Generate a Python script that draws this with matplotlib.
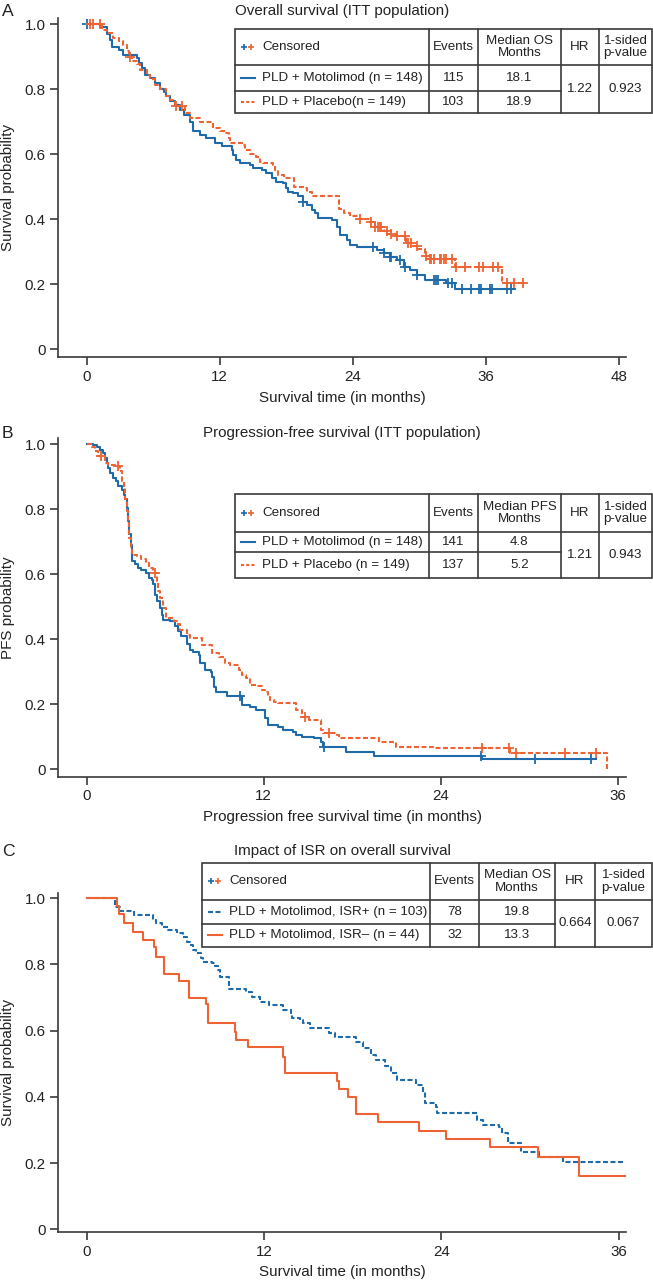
import numpy as np
import matplotlib
matplotlib.use('Agg')
import matplotlib.pyplot as plt
from matplotlib import font_manager as fm
from matplotlib.patches import Rectangle

# condensed font if present, otherwise regular Liberation Sans a bit smaller
names = {f.name for f in fm.fontManager.ttflist}
if 'Liberation Sans Narrow' in names:
    FAMILY, K = 'Liberation Sans Narrow', 1.0
else:
    FAMILY, K = 'Liberation Sans', 0.84
plt.rcParams['font.family'] = [FAMILY, 'DejaVu Sans']

BLUE = '#1f6aa8'
ORANGE = '#ee6334'
EDGE = '#3a3a3a'

# ---- A: overall survival (ITT) ----
os_mot_t = [0, 1.2, 1.8, 2.1, 2.3, 2.9, 3.3, 4.5, 4.7, 5.0, 5.3, 5.7, 6.2, 6.6, 7.0, 7.2, 7.5,
            8.0, 8.4, 8.8, 9.3, 9.6, 10.2, 10.8, 11.6, 12.2, 13.1, 13.2, 13.5, 13.8, 14.7, 15.0,
            15.8, 16.2, 16.7, 17.1, 17.7, 18.0, 18.2, 18.6, 19.1, 19.5, 19.9, 20.3, 20.6, 20.9,
            22.1, 22.6, 22.9, 23.5, 23.8, 24.4, 26.2, 26.8, 27.4, 28.0, 28.6, 29.2, 29.8, 30.5,
            32.4, 33.2]
os_mot_s = [1.0, 0.99, 0.97, 0.95, 0.93, 0.92, 0.905, 0.895, 0.88, 0.865, 0.845, 0.835, 0.82,
            0.80, 0.79, 0.78, 0.765, 0.75, 0.735, 0.72, 0.70, 0.67, 0.66, 0.649, 0.634, 0.624,
            0.613, 0.598, 0.582, 0.572, 0.567, 0.557, 0.552, 0.541, 0.526, 0.516, 0.511, 0.495,
            0.485, 0.48, 0.47, 0.454, 0.444, 0.429, 0.418, 0.403, 0.398, 0.377, 0.352, 0.336,
            0.321, 0.315, 0.305, 0.295, 0.285, 0.274, 0.254, 0.244, 0.228, 0.213, 0.203, 0.186]
os_mot_end = 38.6
os_mot_cens = [0, 19.5, 25.8, 26.8, 27.4, 27.5, 28.3, 28.7, 29.8, 31.3, 31.5, 31.7, 32.6, 33.0,
               33.9, 34.7, 35.4, 35.6, 36.4, 36.6, 37.9, 38.3]

os_pla_t = [0, 1.35, 1.8, 2.4, 2.9, 3.3, 3.6, 3.8, 4.1, 4.5, 4.8, 5.4, 5.7, 6.2, 6.6, 7.2, 7.5,
            8.0, 8.9, 9.3, 10.2, 11.4, 12.0, 12.5, 12.8, 12.9, 14.1, 14.3, 14.7, 15.3, 15.6, 15.9,
            16.8, 17.0, 17.3, 17.8, 18.7, 19.6, 19.9, 20.3, 22.8, 23.2, 23.8, 24.5, 25.6, 26.0,
            26.8, 27.2, 27.9, 28.8, 29.4, 29.9, 30.5, 30.9, 33.2, 37.5]
os_pla_s = [1.0, 0.983, 0.973, 0.958, 0.948, 0.937, 0.917, 0.90, 0.886, 0.876, 0.86, 0.845, 0.83,
            0.814, 0.80, 0.778, 0.768, 0.748, 0.727, 0.712, 0.70, 0.68, 0.67, 0.664, 0.649, 0.634,
            0.628, 0.613, 0.60, 0.59, 0.577, 0.572, 0.567, 0.552, 0.536, 0.526, 0.50, 0.495,
            0.485, 0.47, 0.43, 0.42, 0.41, 0.40, 0.39, 0.375, 0.365, 0.355, 0.348, 0.328, 0.318,
            0.308, 0.287, 0.278, 0.252, 0.203]
os_pla_end = 39.4
os_pla_cens = [0.3, 0.6, 1.2, 3.9, 8.1, 8.6, 24.7, 25.7, 26.0, 26.3, 26.5, 26.6, 27.1, 27.5, 28.0,
               28.7, 29.0, 29.3, 29.8, 30.6, 31.0, 31.1, 31.3, 31.85, 32.0, 32.2, 32.4, 32.97,
               33.35, 34.1, 35.4, 35.8, 36.7, 37.1, 37.9, 38.6, 39.4]

# ---- B: progression-free survival (ITT) ----
pfs_mot_t = [0, 0.45, 0.7, 0.9, 1.13, 1.24, 1.36, 1.47, 1.58, 1.8, 2.0, 2.15, 2.37, 2.5, 2.6, 2.7,
             2.8, 2.87, 3.0, 3.05, 3.1, 3.3, 3.5, 3.7, 4.0, 4.2, 4.4, 4.5, 4.6, 4.75, 5.0, 5.1,
             5.2, 5.65, 6.0, 6.2, 6.4, 6.8, 7.0, 7.2, 7.6, 7.7, 8.0, 8.4, 8.5, 8.6, 8.8, 9.5,
             10.5, 11.1, 11.5, 12.1, 12.3, 13.0, 13.3, 14.0, 14.2, 14.6, 15.4, 15.9, 16.05, 17.6,
             19.5, 26.8]
pfs_mot_s = [1.0, 0.997, 0.99, 0.983, 0.973, 0.958, 0.942, 0.927, 0.912, 0.896, 0.886, 0.87, 0.86,
             0.845, 0.83, 0.804, 0.763, 0.722, 0.691, 0.66, 0.64, 0.63, 0.62, 0.614, 0.604, 0.588,
             0.583, 0.568, 0.537, 0.516, 0.496, 0.475, 0.46, 0.455, 0.44, 0.424, 0.409, 0.385,
             0.366, 0.361, 0.351, 0.325, 0.305, 0.30, 0.284, 0.253, 0.238, 0.225, 0.197, 0.192,
             0.182, 0.156, 0.136, 0.130, 0.12, 0.115, 0.105, 0.10, 0.094, 0.084, 0.069, 0.053,
             0.04, 0.03]
pfs_mot_end = 34.5
pfs_mot_cens = [10.4, 16.1, 26.75, 30.4, 34.2]

pfs_pla_t = [0, 0.34, 0.56, 0.8, 1.24, 1.47, 1.9, 2.26, 2.37, 2.5, 2.6, 2.7, 2.78, 2.87, 3.0, 3.1,
             3.4, 3.7, 4.0, 4.2, 4.5, 4.75, 4.86, 5.0, 5.2, 5.4, 5.9, 6.1, 6.3, 6.8, 7.0, 7.8, 8.5,
             9.0, 9.4, 9.7, 10.3, 10.5, 10.8, 11.1, 11.5, 11.9, 12.1, 12.3, 12.4, 12.7, 13.0, 14.2,
             14.6, 15.1, 15.9, 16.0, 17.0, 17.1, 19.8, 21.0, 23.5, 28.7, 35.3]
pfs_pla_s = [1.0, 0.99, 0.98, 0.963, 0.942, 0.937, 0.932, 0.917, 0.886, 0.866, 0.83, 0.794, 0.763,
             0.711, 0.681, 0.66, 0.655, 0.645, 0.634, 0.619, 0.604, 0.578, 0.547, 0.527, 0.496,
             0.465, 0.455, 0.445, 0.428, 0.413, 0.403, 0.382, 0.356, 0.346, 0.325, 0.32, 0.305,
             0.29, 0.279, 0.259, 0.254, 0.243, 0.238, 0.223, 0.213, 0.207, 0.202, 0.182, 0.161,
             0.151, 0.12, 0.11, 0.105, 0.095, 0.084, 0.069, 0.064, 0.05, 0.0]
pfs_pla_end = 35.3
pfs_pla_cens = [1.0, 2.1, 4.6, 14.8, 16.4, 26.8, 28.6, 29.1, 32.4, 34.5]

# ---- C: impact of ISR on overall survival ----
isr_pos_t = [0, 1.9, 2.26, 3.2, 4.47, 4.7, 5.1, 5.5, 6.1, 6.5, 6.8, 7.0, 7.2, 7.4, 7.7, 7.9, 8.5,
             8.7, 8.9, 9.0, 9.6, 10.77, 11.2, 11.75, 12.3, 13.3, 13.8, 13.9, 14.4, 14.6, 15.1,
             16.4, 16.8, 18.2, 18.7, 19.2, 19.6, 20.2, 20.6, 21.0, 22.3, 22.75, 22.9, 23.6, 23.7,
             26.4, 26.8, 27.9, 28.1, 28.5, 29.4, 30.6, 32.2]
isr_pos_s = [1.0, 0.975, 0.963, 0.95, 0.935, 0.925, 0.914, 0.904, 0.894, 0.884, 0.869, 0.859,
             0.844, 0.834, 0.819, 0.809, 0.804, 0.794, 0.783, 0.763, 0.725, 0.718, 0.703, 0.688,
             0.678, 0.663, 0.653, 0.637, 0.632, 0.622, 0.607, 0.592, 0.58, 0.567, 0.547, 0.527,
             0.512, 0.492, 0.472, 0.451, 0.436, 0.416, 0.381, 0.371, 0.351, 0.33, 0.315, 0.31,
             0.29, 0.26, 0.235, 0.22, 0.203]
isr_pos_end = 36.4

isr_neg_t = [0, 2.03, 2.2, 2.5, 3.16, 3.83, 4.58, 4.7, 5.2, 6.25, 6.9, 8.05, 8.2, 10.0, 10.1, 10.9,
             13.3, 13.4, 16.9, 17.1, 17.7, 18.2, 19.7, 22.5, 24.3, 27.3, 30.5, 33.3]
isr_neg_s = [1.0, 0.977, 0.953, 0.924, 0.899, 0.874, 0.852, 0.824, 0.771, 0.751, 0.70, 0.68, 0.622,
             0.597, 0.572, 0.55, 0.52, 0.473, 0.449, 0.423, 0.40, 0.348, 0.323, 0.298, 0.273,
             0.248, 0.218, 0.161]
isr_neg_end = 36.4

W, H = 653, 1281
fig = plt.figure(figsize=(W / 100, H / 100), dpi=100)


def px_axes(left, top, right, bottom):
    return fig.add_axes([left / W, 1 - bottom / H, (right - left) / W, (bottom - top) / H])


def km(ax, t, s, end, color, ls, cens=None):
    tt = np.append(t, end)
    ss = np.append(s, s[-1])
    ax.step(tt, ss, where='post', color=color, lw=1.5, linestyle=ls, zorder=3)
    if cens:
        idx = np.searchsorted(t, cens, side='right') - 1
        ax.plot(cens, np.asarray(s)[idx], ls='none', marker='+', ms=7, mew=1.3,
                color=color, zorder=4)


def style(ax, xlim, ylim, xticks, xlabel, ylabel, xlab_y):
    ax.set_xlim(*xlim)
    ax.set_ylim(*ylim)
    for sp in ('top', 'right'):
        ax.spines[sp].set_visible(False)
    for sp in ('left', 'bottom'):
        ax.spines[sp].set_color(EDGE)
        ax.spines[sp].set_linewidth(1.2)
    ax.set_xticks(xticks)
    ax.set_yticks([0, 0.2, 0.4, 0.6, 0.8, 1.0])
    ax.set_yticklabels(['0', '0.2', '0.4', '0.6', '0.8', '1.0'])
    ax.tick_params(length=6, width=1.2, color=EDGE, labelsize=13 * K, pad=3, labelcolor='#222')
    ax.set_xlabel(xlabel, fontsize=13 * K, color='#222')
    ax.set_ylabel(ylabel, fontsize=13 * K, color='#222')
    ax.xaxis.set_label_coords(0.5, xlab_y)
    ax.xaxis.label.set_va('center')
    ax.yaxis.set_label_coords(-0.088, 0.5)
    ax.yaxis.label.set_va('center')


dash = (0, (2.4, 1.2))

axA = px_axes(58.3, 18.3, 625.8, 357.3)
km(axA, os_mot_t, os_mot_s, os_mot_end, BLUE, '-', os_mot_cens)
km(axA, os_pla_t, os_pla_s, os_pla_end, ORANGE, dash, os_pla_cens)
style(axA, (-2.56, 48.65), (-0.0246, 1.018), [0, 12, 24, 36, 48],
      'Survival time (in months)', 'Survival probability', -0.121)

axB = px_axes(58.3, 438, 625.8, 776.7)
km(axB, pfs_mot_t, pfs_mot_s, pfs_mot_end, BLUE, '-', pfs_mot_cens)
km(axB, pfs_pla_t, pfs_pla_s, pfs_pla_end, ORANGE, dash, pfs_pla_cens)
style(axB, (-1.925, 36.55), (-0.0237, 1.019), [0, 12, 24, 36],
      'Progression free survival time (in months)', 'PFS probability', -0.118)

axC = px_axes(58.3, 893.3, 625.8, 1232)
km(axC, isr_pos_t, isr_pos_s, isr_pos_end, BLUE, dash)
km(axC, isr_neg_t, isr_neg_s, isr_neg_end, ORANGE, '-')
style(axC, (-1.92, 36.47), (-0.008, 1.015), [0, 12, 24, 36],
      'Survival time (in months)', 'Survival probability', -0.117)

# overlay in pixel coordinates for titles, panel letters and the summary tables
ov = fig.add_axes([0, 0, 1, 1], zorder=5)
ov.set_xlim(0, W)
ov.set_ylim(H, 0)
ov.axis('off')
ov.patch.set_alpha(0)

for letter, ttl, y in [('A', 'Overall survival (ITT population)', 11),
                       ('B', 'Progression-free survival (ITT population)', 433),
                       ('C', 'Impact of ISR on overall survival', 851)]:
    ov.text(2, y, letter, fontsize=15 * K, ha='left', va='center', color='#222')
    ov.text(342, y, ttl, fontsize=13 * K, ha='center', va='center', color='#222')


def table(cols, rows, median_hdr, labels, events, medians, hr, pval, styles):
    x0, x1, x2, x3, x4, x5 = cols
    y0, y1, y2, y3 = rows
    ov.add_patch(Rectangle((x0, y0), x5 - x0, y3 - y0, fc='white', ec=EDGE, lw=1.2, zorder=1))
    for x in (x1, x2, x3, x4):
        ov.plot([x, x], [y0, y3], color=EDGE, lw=1.2, zorder=2)
    ov.plot([x0, x5], [y1, y1], color=EDGE, lw=1.2, zorder=2)
    ov.plot([x0, x3], [y2, y2], color=EDGE, lw=1.2, zorder=2)
    fs = 11.5 * K
    hy = (y0 + y1) / 2
    ov.plot([x0 + 9], [hy], marker='+', ms=5, mew=1.2, color=BLUE, zorder=3)
    ov.plot([x0 + 15.5], [hy], marker='+', ms=5, mew=1.2, color=ORANGE, zorder=3)
    ov.text(x0 + 27, hy, 'Censored', fontsize=fs, va='center', ha='left', color='#222')
    for txt, xa, xb in [('Events', x1, x2), (median_hdr, x2, x3), ('HR', x3, x4),
                        ('1-sided\np-value', x4, x5)]:
        ov.text((xa + xb) / 2, hy, txt, fontsize=fs, ha='center', va='center',
                linespacing=1.05, color='#222')
    for (ya, yb), lab, ev, med, (col, ls) in zip([(y1, y2), (y2, y3)], labels, events, medians,
                                                  styles):
        yc = (ya + yb) / 2
        ov.plot([x0 + 6, x0 + 20], [yc, yc], color=col, ls=ls, lw=1.5, zorder=3)
        ov.text(x0 + 27, yc, lab, fontsize=fs, va='center', ha='left', color='#222')
        ov.text((x1 + x2) / 2, yc, ev, fontsize=fs, va='center', ha='center', color='#222')
        ov.text((x2 + x3) / 2, yc, med, fontsize=fs, va='center', ha='center', color='#222')
    ym = (y1 + y3) / 2
    ov.text((x3 + x4) / 2, ym, hr, fontsize=fs, va='center', ha='center', color='#222')
    ov.text((x4 + x5) / 2, ym, pval, fontsize=fs, va='center', ha='center', color='#222')


dot = (0, (1.5, 1.0))
table((235, 429, 478, 561, 599, 652), (29.3, 65, 90.7, 113.3), 'Median OS\nMonths',
      ['PLD + Motolimod (n = 148)', 'PLD + Placebo(n = 149)'], ['115', '103'],
      ['18.1', '18.9'], '1.22', '0.923', [(BLUE, '-'), (ORANGE, dot)])
table((235, 429, 478, 561, 599, 652), (494, 532.3, 552.3, 578.3), 'Median PFS\nMonths',
      ['PLD + Motolimod (n = 148)', 'PLD + Placebo (n = 149)'], ['141', '137'],
      ['4.8', '5.2'], '1.21', '0.943', [(BLUE, '-'), (ORANGE, dot)])
table((202, 430.4, 479, 555, 595, 652), (862.7, 900, 924, 946.7), 'Median OS\nMonths',
      ['PLD + Motolimod, ISR+ (n = 103)', 'PLD + Motolimod, ISR\u2013 (n = 44)'], ['78', '32'],
      ['19.8', '13.3'], '0.664', '0.067', [(BLUE, (0, (2.4, 1.2))), (ORANGE, '-')])

fig.savefig('out.png', dpi=100)
